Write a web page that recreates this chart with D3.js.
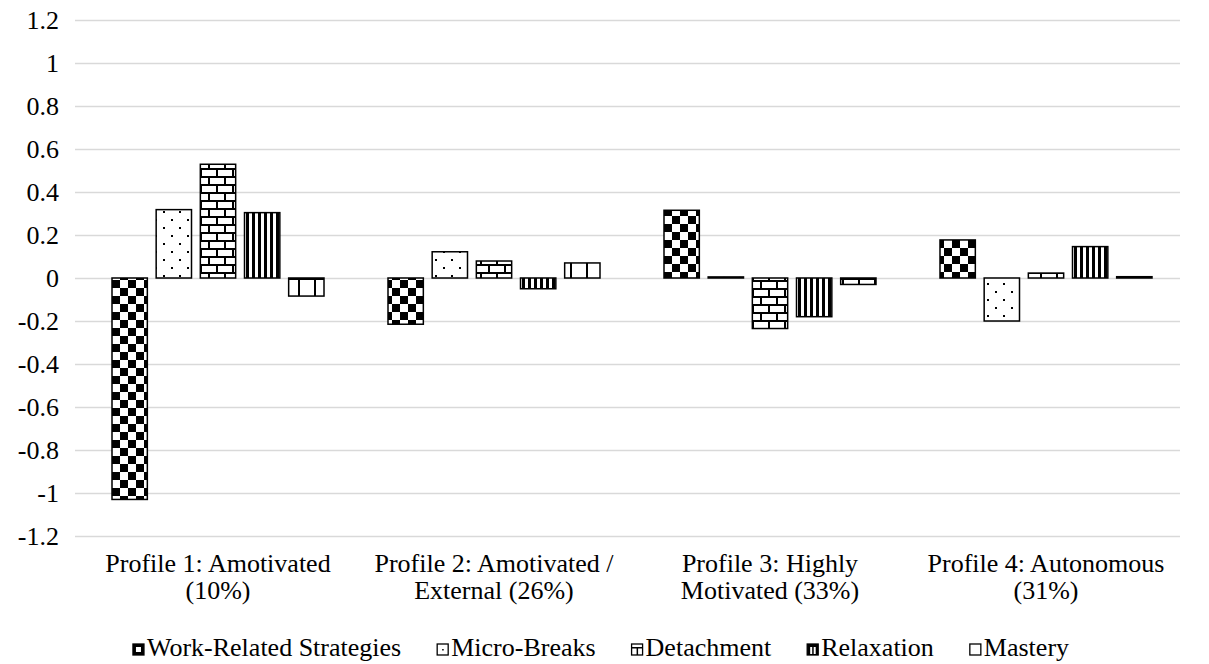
<!DOCTYPE html>
<html><head><meta charset="utf-8">
<script src="https://cdn.jsdelivr.net/npm/d3@7"></script>
<style>body{margin:0;background:#fff}svg{display:block}text{font-family:"Liberation Serif","Times New Roman",serif;fill:#000}</style>
</head><body><svg id="c" width="1209" height="664"></svg>
<script>
const categoryLines = [["Profile 1: Amotivated","(10%)"],["Profile 2: Amotivated /","External (26%)"],["Profile 3: Highly","Motivated (33%)"],["Profile 4: Autonomous","(31%)"]];
const seriesNames = ["Work-Related Strategies","Micro-Breaks","Detachment","Relaxation","Mastery"];
const workRelated = [-1.03, -0.215, 0.315, 0.177];
const microBreaks = [0.318, 0.122, 0.005, -0.20];
const detachment = [0.529, 0.079, -0.235, 0.023];
const relaxation = [0.304, -0.05, -0.18, 0.146];
const mastery = [-0.084, 0.07, -0.03, 0.006];
const yTicks = [-1.2,-1,-0.8,-0.6,-0.4,-0.2,0,0.2,0.4,0.6,0.8,1,1.2];

const series = [workRelated, microBreaks, detachment, relaxation, mastery];
const svg = d3.select("#c");
const FS = 26;
const plot = {l:80, r:1184, t:20, b:536};
const x0 = d3.scaleBand().domain(d3.range(4)).range([plot.l, plot.r]);
const x1 = d3.scaleBand().domain(d3.range(5)).range([32, x0.bandwidth()-32]).paddingInner(0.2);
const y = d3.scaleLinear().domain([-1.2,1.2]).range([plot.b, plot.t]);

// patterns
const defs = svg.append("defs");
function pat(id,w,h){return defs.append("pattern").attr("id",id).attr("patternUnits","userSpaceOnUse").attr("width",w).attr("height",h);}
let p = pat("p0",16,16);
p.append("rect").attr("width",16).attr("height",16).attr("fill","#fff");
p.append("rect").attr("x",8).attr("y",0).attr("width",8).attr("height",8).attr("fill","#000");
p.append("rect").attr("x",0).attr("y",8).attr("width",8).attr("height",8).attr("fill","#000");
p = pat("p1",16,16);
p.append("rect").attr("width",16).attr("height",16).attr("fill","#fff");
p.append("rect").attr("x",3).attr("y",3).attr("width",2).attr("height",2).attr("fill","#000");
p.append("rect").attr("x",11).attr("y",11).attr("width",2).attr("height",2).attr("fill","#000");
p = pat("p2",16,16);
p.append("rect").attr("width",16).attr("height",16).attr("fill","#fff");
p.append("rect").attr("x",0).attr("y",0).attr("width",16).attr("height",2).attr("fill","#000");
p.append("rect").attr("x",0).attr("y",8).attr("width",16).attr("height",2).attr("fill","#000");
p.append("rect").attr("x",0).attr("y",0).attr("width",2).attr("height",8).attr("fill","#000");
p.append("rect").attr("x",8).attr("y",8).attr("width",2).attr("height",8).attr("fill","#000");
p = pat("p3",6,6);
p.append("rect").attr("width",6).attr("height",6).attr("fill","#fff");
p.append("rect").attr("x",0).attr("width",3).attr("height",6).attr("fill","#000");
p = pat("p4",16,18);
p.append("rect").attr("width",16).attr("height",18).attr("fill","#fff");
p.append("rect").attr("x",0).attr("y",8).attr("width",16).attr("height",2).attr("fill","#000");
p.append("rect").attr("x",10).attr("y",0).attr("width",2).attr("height",18).attr("fill","#000");

// grid
svg.append("g").selectAll("line").data(yTicks).join("line")
  .attr("x1",plot.l-5).attr("x2",plot.r-4).attr("y1",d=>Math.round(y(d))+0.5).attr("y2",d=>Math.round(y(d))+0.5)
  .attr("stroke","#d9d9d9").attr("stroke-width",1.3);

// y labels
svg.append("g").selectAll("text").data(yTicks).join("text")
  .attr("x",59).attr("y",d=>y(d)).attr("dy","0.35em").attr("text-anchor","end")
  .attr("font-size",FS).text(d=>String(d));

// bars
series.forEach((vals,si)=>{
  svg.append("g").selectAll("rect").data(vals).join("rect")
    .attr("x",(d,i)=>x0(i)+x1(si)).attr("width",x1.bandwidth())
    .attr("y",d=>y(Math.max(0,d))).attr("height",d=>Math.abs(y(d)-y(0)))
    .attr("fill",`url(#p${si})`).attr("stroke","#000").attr("stroke-width",1.5);
});

// category labels
const cg = svg.append("g");
categoryLines.forEach((lines,i)=>{
  const t = cg.append("text").attr("text-anchor","middle").attr("font-size",FS);
  lines.forEach((ln,k)=>t.append("tspan").attr("x",x0(i)+x0.bandwidth()/2).attr("y",572+k*27).text(ln));
});

// legend
const lg = svg.append("g");
const items = seriesNames.map((n,i)=>{
  const g = lg.append("g");
  g.append("rect").attr("x",0).attr("y",-12).attr("width",11).attr("height",11)
    .attr("fill","#fff").attr("stroke","#000").attr("stroke-width",1.3);
  if(i===0){g.append("rect").attr("x",0).attr("y",-12).attr("width",11).attr("height",11).attr("fill","#000");
            g.append("rect").attr("x",3).attr("y",-9).attr("width",5).attr("height",5).attr("fill","#fff");}
  if(i===1){g.append("rect").attr("x",5).attr("y",-7).attr("width",1.5).attr("height",1.5).attr("fill","#000");}
  if(i===2){g.append("rect").attr("x",0).attr("y",-9).attr("width",11).attr("height",1.5).attr("fill","#000");
            g.append("rect").attr("x",5).attr("y",-9).attr("width",1.5).attr("height",8).attr("fill","#000");}
  if(i===3){g.append("rect").attr("x",0).attr("y",-12).attr("width",11).attr("height",11).attr("fill","#000");
            g.append("rect").attr("x",3).attr("y",-9).attr("width",2).attr("height",7).attr("fill","#fff");
            g.append("rect").attr("x",6.5).attr("y",-9).attr("width",2).attr("height",7).attr("fill","#fff");}
  const t = g.append("text").attr("x",14).attr("y",0).attr("font-size",FS).text(n);
  return {g, w:14+t.node().getComputedTextLength()};
});
const gap = 36;
const total = d3.sum(items,d=>d.w)+gap*(items.length-1);
let cx = 601 - total/2;
items.forEach(it=>{it.g.attr("transform",`translate(${cx},656)`); cx += it.w+gap;});
</script></body></html>
